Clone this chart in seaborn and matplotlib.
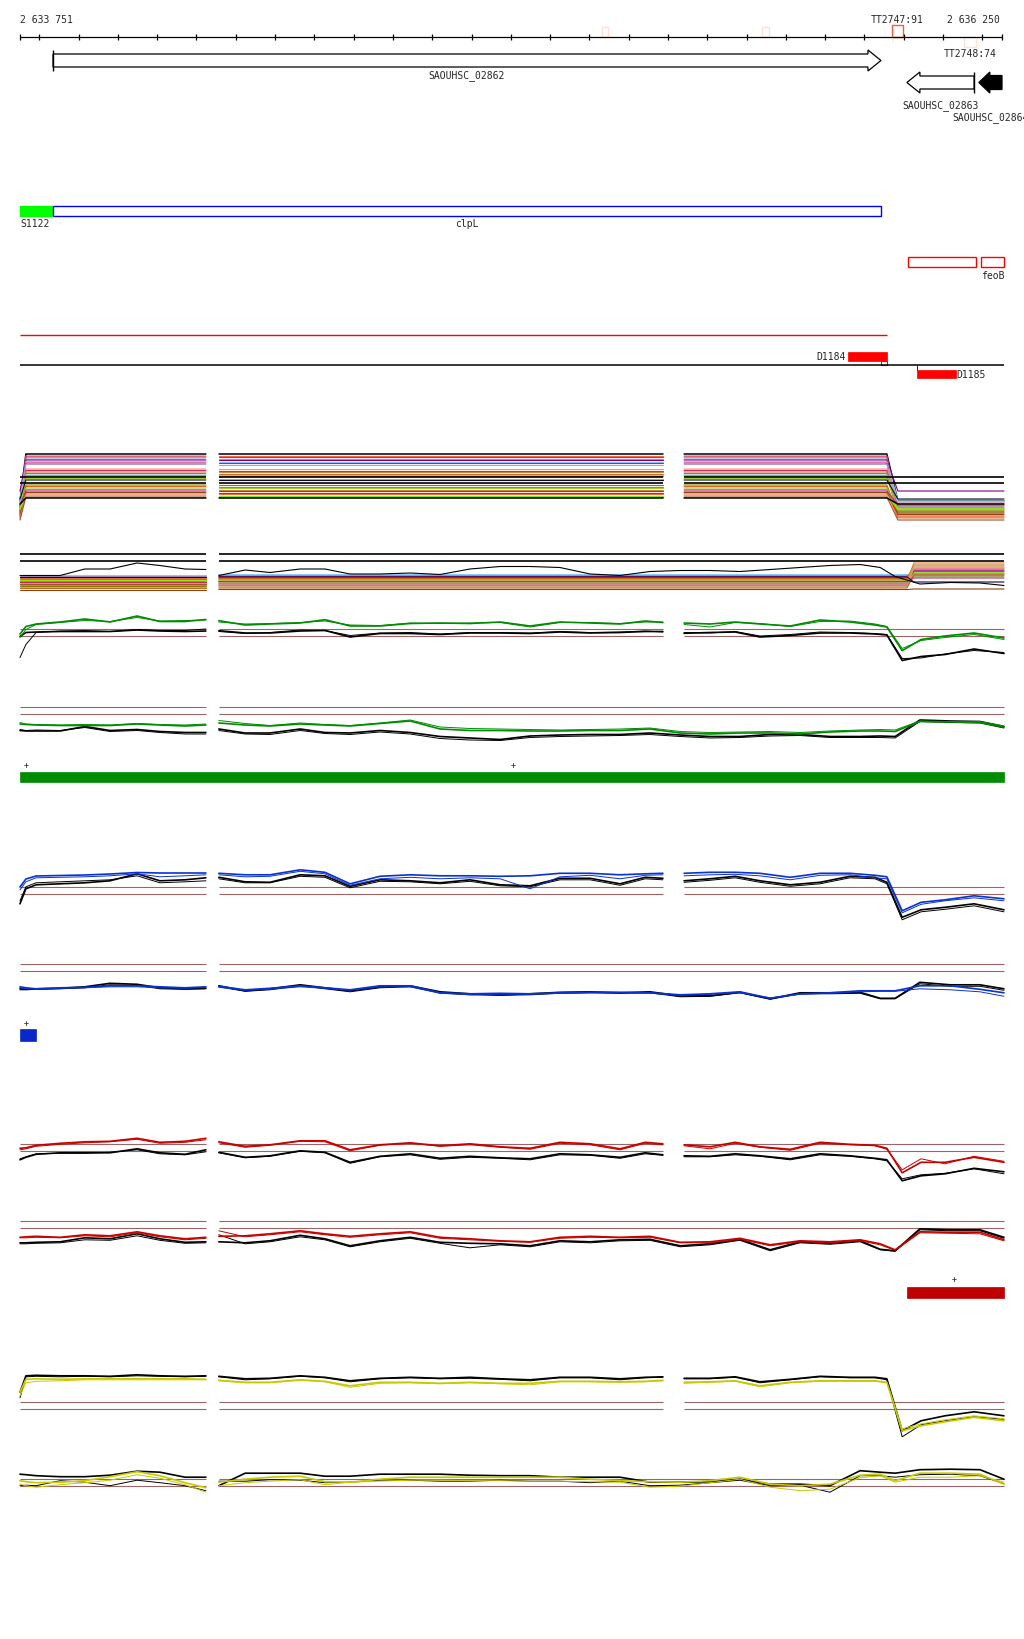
"""
plot.py

Genome-browser style view of the clpL / feoB region (2 633 751 - 2 636 250):
gene track, annotation tracks and per-condition expression traces.
"""

import matplotlib
matplotlib.use("Agg")

import matplotlib.pyplot as plt
import numpy as np
import pandas as pd
import seaborn as sns
from matplotlib.patches import Polygon, Rectangle

# ---------------------------------------------------------------- window
START, END = 2633751, 2636250
TICKS = list(range(2633800, 2636250, 100))

# ---------------------------------------------------------------- genes
gene_names = ["SAOUHSC_02862", "SAOUHSC_02863", "SAOUHSC_02864"]
gene_starts = [2633835, 2636008, 2636191]
gene_ends = [2635942, 2636179, 2636250]
gene_strands = ["+", "-", "-"]
gene_filled = [False, False, True]

# terminators drawn on the ruler
term_names = ["", "", "TT2747:91", "TT2748:74"]
term_starts = [2635231, 2635638, 2635969, 2636153]
term_ends = [2635247, 2635656, 2635998, 2636184]
term_strands = ["+", "+", "+", "-"]
term_colors = ["#FBE1D6", "#FBE1D6", "#F0603F", "#FBE1D6"]

# annotation tracks
anno_names = ["S1122", "clpL"]
anno_starts = [2633751, 2633835]
anno_ends = [2633835, 2635942]
feo_starts = [2636012, 2636197]
feo_ends = [2636184, 2636255]
red_line_end = 2635957
d_names = ["D1184", "D1185"]
d_starts = [2635858, 2636034]
d_ends = [2635957, 2636133]

# condition bars
bar_starts = [2633751, 2633751, 2636007]
bar_ends = [2636255, 2633792, 2636255]
bar_colors = ["#008C00", "#0A28C8", "#BE0000"]
plus_marks = [[2633766, 2635006], [2633766], [2636128]]

# ---------------------------------------------------------------- trace grids (bp)
pos_seg1 = [2633751, 2633766, 2633792, 2633853, 2633916, 2633980, 2634049,
            2634107, 2634171, 2634224]
pos3_seg2 = [2634257, 2634324, 2634387, 2634464, 2634527, 2634591, 2634667,
             2634744, 2634820, 2634896, 2634973, 2635049, 2635125, 2635202,
             2635278, 2635342, 2635387]
pos3_seg3 = [2635441, 2635507, 2635571, 2635634, 2635711, 2635787, 2635863,
             2635927, 2635957, 2635996, 2636044, 2636105, 2636179, 2636255]
pos2_seg2 = [2634257, 2634324, 2634387, 2634464, 2634527, 2634591, 2634667,
             2634744, 2634820, 2634896, 2634973, 2635049, 2635125, 2635202,
             2635278, 2635354, 2635431, 2635507, 2635583, 2635660, 2635736,
             2635812, 2635889, 2635940, 2635978, 2636041, 2636118, 2636194,
             2636255]

THRESH = 0.35

# ---------------------------------------------------------------- multi-sample rows
rowA_level = [4.4, 4.2, 4.1, 3.9, 3.8, 3.65, 3.5, 3.35, 2.9, 2.75, 2.6, 2.45,
              2.3, 2.2, 1.95, 1.8, 1.3, 1.15, 1.0, 0.85, 0.7, 0.55, 0.4,
              0.25, 0.1, 0.0]
rowA_after = [-0.3, -1.0, -0.9, -0.8, 0.7, -0.2, -1.2, -0.5, -0.4, -1.4,
              -1.1, -1.6, -0.35, -1.3, -1.0, -0.1, -1.5, -1.8, -1.2, -2.0,
              -0.7, -1.65, -1.9, -1.1, -2.2, -0.6]
rowA_colors = ["#000000", "#FF6347", "#C0306A", "#9999CC", "#800080",
               "#87CEFA", "#C71585", "#B0A0D0", "#E9967A", "#C8285A",
               "#CD853F", "#D2691E", "#87CEFA", "#808000", "#9ACD32",
               "#0A0A28", "#808000", "#D2691E", "#9ACD32", "#CD853F",
               "#C71585", "#8B4513", "#FF6347", "#7CFC00", "#A0522D",
               "#000000"]
rowA_thresholds = [2.07, 1.47]

rowB_level = [1.45, 1.35, 1.25, 1.15, 1.05, 0.95, 0.9, 0.8, 0.7, 0.6, 0.5,
              0.4, 0.3, 0.2, 0.1, -0.05, 0.75, 1.2]
rowB_after = [1.2, 1.5, 1.9, 2.1, 2.4, 1.7, 1.6, 2.6, 1.8, 2.3, 1.4, 2.0,
              1.3, 2.2, 1.5, 0.0, 1.1, 0.7]
rowB_colors = ["#87CEFA", "#9999CC", "#C71585", "#FF6347", "#D2691E",
               "#808000", "#7CFC00", "#CD853F", "#8B008B", "#9ACD32",
               "#A0522D", "#DB7093", "#808000", "#E9967A", "#D2691E",
               "#8B4513", "#C8285A", "#0A0A3C"]
rowB_thresholds = [3.5, 2.8]
rowB_black = [1.35, 1.35, 1.35, 1.35, 2.0, 2.0, 2.6, 2.35, 2.0, 1.95,
              1.35, 1.9, 1.65, 2.0, 2.0, 1.5, 1.5, 1.6, 1.45, 2.0, 2.25, 2.25,
              2.15, 1.5, 1.35, 1.75, 1.85, 1.85, 1.75, 1.95, 2.15, 2.35, 2.45,
              2.15, 1.25, 0.5, 0.65, 0.6, 0.35]

# ---------------------------------------------------------------- green condition
rowC_green = [-0.15, 0.6, 0.85, 1.05, 1.35, 1.05, 1.65, 1.1, 1.1, 1.3,
              1.18, 0.75, 0.85, 0.95, 1.28, 0.65, 0.65, 0.9, 0.95, 0.9, 1.05,
              0.65, 1.05, 0.95, 0.85, 1.15, 1.0,
              0.95, 0.85, 1.05, 0.85, 0.65, 1.25, 1.05, 0.75, 0.55, -1.82,
              -0.7, -0.35, -0.05, -0.55]
rowC_green2 = [-0.5, 0.3, 0.8, 1.0, 1.2, 1.1, 1.5, 1.15, 1.2, 1.25,
               1.05, 0.85, 0.9, 1.0, 1.15, 0.75, 0.7, 0.95, 0.9, 0.95, 1.0,
               0.55, 1.0, 1.0, 0.9, 1.05, 1.05,
               0.8, 0.55, 1.0, 0.9, 0.6, 1.1, 1.15, 0.85, 0.6, -1.6, -0.8,
               -0.5, -0.2, -0.7]
rowC_black = [-0.4, 0.0, 0.05, 0.1, 0.1, 0.1, 0.25, 0.15, 0.1, 0.15,
              0.18, -0.05, -0.05, 0.15, 0.2, -0.45, -0.1, -0.1, -0.2, -0.05,
              -0.05, -0.1, 0.05, -0.05, 0.0, 0.1, 0.1,
              -0.08, 0.0, 0.05, -0.45, -0.3, -0.05, -0.05, -0.15, -0.25, -2.8,
              -2.4, -2.2, -1.65, -2.1]
rowC_black2 = [-2.5, -1.2, 0.0, 0.15, 0.2, 0.1, 0.3, 0.2, 0.2, 0.35,
               0.1, -0.1, 0.0, 0.25, 0.2, -0.3, -0.05, 0.0, -0.15, 0.0, 0.0,
               -0.05, 0.1, 0.0, 0.05, 0.15, 0.05,
               0.0, -0.05, 0.1, -0.35, -0.2, 0.05, 0.0, -0.1, -0.2, -2.6,
               -2.55, -2.15, -1.8, -2.0]
rowD_green = [-1.35, -1.4, -1.45, -1.5, -1.5, -1.5, -1.35, -1.45, -1.55, -1.45,
              -1.25, -1.45, -1.55, -1.35, -1.45, -1.55, -1.3, -1.05, -1.85,
              -2.0, -2.0, -2.05, -2.05, -2.0, -2.0, -1.85, -2.25, -2.35, -2.25,
              -2.25, -2.35, -2.15, -2.05, -2.05, -2.1, -1.1, -1.15, -1.2, -1.65]
rowD_green2 = [-1.2, -1.35, -1.4, -1.45, -1.4, -1.45, -1.3, -1.4, -1.45, -1.35,
               -1.0, -1.3, -1.5, -1.25, -1.4, -1.5, -1.25, -0.95, -1.65, -1.8,
               -1.85, -1.9, -1.95, -1.9, -1.85, -1.75, -2.1, -2.2, -2.15, -2.1,
               -2.2, -2.05, -1.95, -1.9, -1.95, -1.05, -1.1, -1.1, -1.55]
rowD_black = [-2.0, -2.05, -2.05, -2.05, -1.6, -2.0, -1.9, -2.1, -2.2, -2.2,
              -1.85, -2.25, -2.25, -1.85, -2.2, -2.25, -2.0, -2.2, -2.6, -2.75,
              -2.9, -2.55, -2.45, -2.4, -2.4, -2.25, -2.45, -2.6, -2.6, -2.4,
              -2.4, -2.6, -2.6, -2.55, -2.6, -0.95, -1.05, -1.1, -1.6]
rowD_black2 = [-1.9, -2.0, -1.95, -2.0, -1.7, -2.1, -2.0, -2.2, -2.35, -2.35,
               -2.0, -2.35, -2.4, -2.0, -2.3, -2.4, -2.15, -2.35, -2.8, -2.95,
               -3.0, -2.7, -2.6, -2.55, -2.5, -2.4, -2.6, -2.75, -2.7, -2.55,
               -2.5, -2.7, -2.7, -2.7, -2.75, -1.1, -1.2, -1.25, -1.75]

# ---------------------------------------------------------------- blue condition
rowE_blue = [0.38, 1.18, 1.48, 1.53, 1.58, 1.68, 1.83, 1.78, 1.78, 1.78,
             1.75, 1.6, 1.6, 2.1, 1.85, 0.7, 1.45, 1.6, 1.5, 1.5, 1.45, 1.5,
             1.75, 1.75, 1.6, 1.7, 1.75,
             1.75, 1.85, 1.85, 1.75, 1.35, 1.75, 1.75, 1.55, 1.4, -2.0, -1.15,
             -0.9, -0.5, -0.8]
rowE_blue2 = [0.1, 0.9, 1.3, 1.35, 1.4, 1.5, 1.7, 1.4, 1.5, 1.6,
              1.6, 1.4, 1.45, 1.95, 1.7, 0.55, 1.2, 1.35, 1.2, 1.3, 1.2, 0.2,
              1.4, 1.55, 1.2, 1.55, 1.6,
              1.5, 1.6, 1.65, 1.5, 1.1, 1.55, 1.6, 1.3, 1.2, -2.2, -1.35, -1.0,
              -0.7, -1.0]
rowE_black = [-1.3, 0.2, 0.6, 0.7, 0.8, 1.0, 1.7, 1.0, 1.1, 1.3,
              1.35, 0.9, 0.85, 1.6, 1.5, 0.45, 1.1, 1.0, 0.8, 1.1, 0.6, 0.5,
              1.25, 1.25, 0.7, 1.35, 1.25,
              1.0, 1.2, 1.45, 1.0, 0.6, 0.85, 1.45, 1.35, 0.85, -2.65, -1.9,
              -1.65, -1.3, -1.9]
rowE_black2 = [-1.0, 0.4, 0.8, 0.9, 1.0, 1.1, 1.5, 0.8, 0.9, 1.0,
               1.2, 0.8, 0.8, 1.45, 1.35, 0.3, 0.95, 0.9, 0.7, 0.95, 0.5, 0.4,
               1.1, 1.1, 0.55, 1.2, 1.1,
               0.85, 1.05, 1.3, 0.85, 0.45, 0.7, 1.3, 1.2, 0.7, -2.9, -2.1,
               -1.85, -1.5, -2.1]
rowF_blue = [-1.9, -2.0, -2.1, -2.0, -1.95, -1.8, -1.8, -1.9, -2.0, -1.9,
             -1.85, -2.2, -2.05, -1.8, -2.0, -2.2, -1.8, -1.8, -2.5, -2.6,
             -2.55, -2.6, -2.5, -2.45, -2.45, -2.5, -2.7, -2.6, -2.4, -3.05,
             -2.6, -2.5, -2.3, -2.3, -2.3, -1.8, -1.8, -2.15, -2.5]
rowF_blue2 = [-2.0, -2.1, -2.15, -2.05, -2.0, -1.9, -1.9, -2.0, -2.05, -1.95,
              -1.95, -2.25, -2.15, -1.9, -2.05, -2.25, -1.9, -1.9, -2.55, -2.7,
              -2.65, -2.65, -2.55, -2.5, -2.5, -2.55, -2.75, -2.65, -2.5, -3.0,
              -2.65, -2.55, -2.4, -2.35, -2.35, -2.1, -2.2, -2.4, -2.85]
rowF_black = [-2.1, -2.15, -2.1, -2.05, -1.9, -1.55, -1.65, -2.0, -2.1, -2.05,
              -1.8, -2.3, -2.1, -1.7, -2.0, -2.3, -1.9, -1.8, -2.4, -2.6,
              -2.7, -2.6, -2.45, -2.4, -2.5, -2.4, -2.8, -2.8, -2.45, -3.1,
              -2.5, -2.5, -2.45, -3.05, -3.05, -1.45, -1.7, -1.7, -2.1]
rowF_black2 = [-2.2, -2.2, -2.15, -2.1, -2.0, -1.7, -1.75, -2.1, -2.15, -2.1,
               -1.9, -2.35, -2.2, -1.8, -2.1, -2.4, -2.0, -1.9, -2.5, -2.7,
               -2.75, -2.7, -2.55, -2.5, -2.55, -2.5, -2.9, -2.85, -2.5, -3.15,
               -2.6, -2.6, -2.55, -3.1, -3.1, -1.6, -1.85, -1.85, -2.25]

# ---------------------------------------------------------------- red condition
rowG_red = [-0.05, 0.0, 0.25, 0.45, 0.6, 0.65, 0.95, 0.55, 0.65, 0.95,
            0.6, 0.15, 0.3, 0.7, 0.7, -0.2, 0.3, 0.5, 0.2, 0.4, 0.1, -0.05,
            0.55, 0.4, -0.1, 0.55, 0.4,
            0.3, 0.1, 0.55, 0.1, -0.15, 0.55, 0.35, 0.25, -0.05, -2.5, -1.45,
            -1.45, -0.95, -1.45]
rowG_red2 = [-0.2, -0.1, 0.15, 0.35, 0.5, 0.6, 0.85, 0.45, 0.55, 0.8,
             0.5, 0.05, 0.25, 0.65, 0.6, -0.3, 0.25, 0.45, 0.15, 0.3, 0.05,
             -0.15, 0.45, 0.3, -0.2, 0.45, 0.3,
             0.2, -0.1, 0.45, 0.05, -0.25, 0.45, 0.3, 0.2, -0.15, -2.2, -1.1,
             -1.6, -0.85, -1.35]
rowG_black = [-1.2, -0.95, -0.65, -0.5, -0.5, -0.5, -0.1, -0.5, -0.65, -0.2,
              -0.45, -0.95, -0.8, -0.3, -0.45, -1.45, -0.85, -0.6, -1.05,
              -0.85, -1.0, -1.1, -0.6, -0.7, -0.95, -0.5, -0.7,
              -0.8, -0.85, -0.6, -0.8, -1.1, -0.6, -0.8, -1.05, -1.2, -3.3,
              -2.8, -2.6, -2.05, -2.4]
rowG_black2 = [-1.1, -0.9, -0.6, -0.55, -0.55, -0.45, -0.2, -0.6, -0.7, -0.4,
               -0.5, -1.0, -0.85, -0.35, -0.5, -1.55, -0.9, -0.7, -1.15,
               -0.95, -1.05, -1.2, -0.7, -0.75, -1.05, -0.6, -0.75,
               -0.9, -0.9, -0.7, -0.85, -1.2, -0.7, -0.85, -1.1, -1.3, -3.1,
               -2.7, -2.55, -2.1, -2.6]
rowH_red = [-1.25, -1.2, -1.15, -1.25, -1.0, -1.1, -0.7, -1.1, -1.4, -1.25,
            -1.15, -1.1, -0.9, -0.6, -0.9, -1.15, -0.9, -0.7, -1.25, -1.4,
            -1.6, -1.7, -1.25, -1.15, -1.25, -1.15, -1.75, -1.7, -1.35, -2.0,
            -1.6, -1.7, -1.5, -1.9, -2.5, -0.7, -0.75, -0.75, -1.5]
rowH_red2 = [-1.3, -1.3, -1.25, -1.3, -1.1, -1.2, -0.8, -1.2, -1.5, -1.35,
             -0.6, -1.2, -1.0, -0.7, -1.0, -1.25, -1.0, -0.8, -1.35, -1.5,
             -1.65, -1.75, -1.35, -1.25, -1.3, -1.25, -1.8, -1.8, -1.45, -2.1,
             -1.7, -1.8, -1.6, -2.0, -2.55, -0.8, -0.85, -0.9, -1.6]
rowH_black = [-1.8, -1.8, -1.75, -1.7, -1.3, -1.4, -0.9, -1.4, -1.75, -1.7,
              -1.7, -1.8, -1.6, -1.05, -1.4, -2.1, -1.6, -1.25, -1.75, -1.85,
              -1.9, -2.1, -1.6, -1.7, -1.5, -1.45, -2.1, -1.9, -1.45, -2.5,
              -1.7, -1.85, -1.6, -2.45, -2.6, -0.4, -0.5, -0.5, -1.25]
rowH_black2 = [-1.9, -1.9, -1.85, -1.8, -1.5, -1.55, -1.1, -1.55, -1.85, -1.8,
               -1.0, -1.9, -1.7, -1.2, -1.5, -2.2, -1.7, -1.35, -1.85, -2.3,
               -2.0, -2.2, -1.7, -1.8, -1.6, -1.55, -2.2, -2.0, -1.55, -2.6,
               -1.8, -1.95, -1.7, -2.5, -2.65, -0.5, -0.6, -0.6, -1.35]

# ---------------------------------------------------------------- yellow condition
rowI_black = [1.35, 3.0, 3.05, 3.0, 3.0, 2.95, 3.1, 3.0, 2.95, 3.0,
              2.95, 2.7, 2.75, 3.0, 2.85, 2.5, 2.75, 2.85, 2.75, 2.85, 2.7,
              2.6, 2.85, 2.85, 2.7, 2.85, 2.9,
              2.75, 2.75, 2.9, 2.4, 2.65, 2.95, 2.85, 2.85, 2.7, -2.5, -1.5,
              -1.0, -0.6, -1.0]
rowI_black2 = [0.8, 2.9, 2.95, 2.9, 2.95, 2.9, 3.0, 2.95, 2.9, 2.95,
               2.9, 2.6, 2.7, 2.95, 2.8, 2.4, 2.7, 2.8, 2.7, 2.75, 2.65, 2.5,
               2.8, 2.8, 2.6, 2.8, 2.85,
               2.7, 2.7, 2.85, 2.3, 2.6, 2.9, 2.8, 2.8, 2.6, -3.1, -1.9, -1.5,
               -1.1, -1.35]
rowI_yellow = [1.35, 2.65, 2.7, 2.65, 2.7, 2.7, 2.7, 2.7, 2.7, 2.65,
               2.55, 2.35, 2.35, 2.6, 2.45, 2.0, 2.35, 2.35, 2.25, 2.35, 2.25,
               2.25, 2.45, 2.45, 2.4, 2.45, 2.55,
               2.35, 2.4, 2.5, 2.0, 2.35, 2.5, 2.5, 2.5, 2.35, -2.5, -2.0,
               -1.6, -1.15, -1.5]
rowI_yellow2 = [1.0, 2.3, 2.45, 2.5, 2.6, 2.6, 2.6, 2.6, 2.6, 2.6,
                2.5, 2.3, 2.3, 2.55, 2.4, 1.85, 2.25, 2.3, 2.2, 2.3, 2.2, 2.1,
                2.4, 2.4, 2.35, 2.4, 2.5,
                2.25, 2.35, 2.45, 1.9, 2.3, 2.45, 2.45, 2.45, 2.3, -2.3, -1.8,
                -1.4, -1.0, -1.3]
rowJ_black = [0.85, 0.8, 0.7, 0.6, 0.6, 0.75, 1.15, 1.05, 0.55, 0.55,
              -0.3, 0.95, 0.95, 0.95, 0.65, 0.65, 0.85, 0.85, 0.85, 0.75, 0.7,
              0.7, 0.55, 0.55, 0.55, 0.05, 0.05, 0.1, 0.35, -0.15, -0.15,
              -0.3, 1.2, 1.05, 0.95, 1.3, 1.35, 1.3, 0.35]
rowJ_black2 = [-0.3, -0.25, -0.3, 0.2, 0.05, -0.3, 0.25, 0.0, -0.3, -0.8,
               0.15, 0.15, 0.3, 0.25, 0.0, 0.05, 0.25, 0.25, 0.15, 0.15, 0.25,
               0.15, 0.15, 0.0, 0.15, -0.3, -0.25, 0.0, 0.25, -0.3, -0.25,
               -0.95, 0.7, 0.7, 0.55, 0.8, 0.85, 0.7, -0.1]
rowJ_yellow = [0.2, 0.1, 0.0, 0.05, 0.2, 0.6, 1.1, 0.7, 0.0, -0.5,
               0.05, 0.35, 0.55, 0.65, 0.1, 0.05, 0.35, 0.55, 0.55, 0.55, 0.55,
               0.55, 0.55, 0.35, 0.2, 0.1, 0.05, 0.2, 0.55, -0.15, -0.3, -0.15,
               0.75, 0.85, 0.2, 0.95, 0.95, 0.85, -0.15]
rowJ_yellow2 = [-0.15, -0.3, -0.45, -0.2, 0.0, 0.25, 0.8, 0.45, -0.2, -0.95,
                -0.3, 0.0, 0.15, 0.3, -0.2, 0.05, 0.15, 0.25, 0.25, 0.2, 0.2,
                0.15, 0.15, 0.1, 0.05, -0.45, -0.35, 0.0, 0.35, -0.45, -0.8,
                -0.65, 0.5, 0.7, 0.05, 0.55, 0.55, 0.7, 0.05]

# ---------------------------------------------------------------- layout
W, H = 1024, 1640
PX_LEFT, PX_RIGHT = 20, 1002                      # ruler ends in pixels
BP_PER_PX = (END - START) / (PX_RIGHT - PX_LEFT)
GAIN = 10                                         # pixels per signal unit
BROWN = "#9C6464"
FONT = dict(family="DejaVu Sans Mono", fontsize=7)

SEG3 = [pos_seg1, pos3_seg2, pos3_seg3]
SEG2 = [pos_seg1, pos2_seg2]


def px(n):
    """Horizontal pixel length -> bp."""
    return n * BP_PER_PX


def trace(ax, segments, values, base, color, lw):
    frames, i = [], 0
    for k, seg in enumerate(segments):
        n = len(seg)
        vals = np.asarray(values[i:i + n], dtype=float)
        frames.append(pd.DataFrame({"pos": seg, "y": base - GAIN * vals, "seg": k}))
        i += n
    df = pd.concat(frames, ignore_index=True)
    sns.lineplot(data=df, x="pos", y="y", units="seg", estimator=None,
                 sort=False, color=color, lw=lw, ax=ax, legend=False)


def thresholds(ax, segments, levels, base, color, lw=0.8):
    for seg in segments:
        for lv in levels:
            ax.hlines(base - GAIN * lv, seg[0], seg[-1], color=color, lw=lw)


def arrow(ax, start, end, strand, yc, filled, shaft=6.5, head=10.5, hlen=13):
    hl = px(hlen)
    if strand == "+":
        tip, back, neck = end, start, end - hl
    else:
        tip, back, neck = start, end, start + hl
    verts = [(back, yc - shaft), (neck, yc - shaft), (neck, yc - head),
             (tip, yc), (neck, yc + head), (neck, yc + shaft), (back, yc + shaft)]
    ax.add_patch(Polygon(verts, closed=True, fc="black" if filled else "white",
                         ec="black", lw=0.9))
    if not filled:
        ax.vlines(back, yc - head, yc + head, color="black", lw=1.0)


def main():
    sns.set_theme(style="white")
    plt.rcParams["font.family"] = ["DejaVu Sans Mono", "DejaVu Sans"]

    fig = plt.figure(figsize=(W / 100, H / 100), dpi=100)
    ax = fig.add_axes([0, 0, 1, 1])

    # ruler
    ax.hlines(38, START, END, color="black", lw=0.9)
    ax.vlines(TICKS + [START, END], 35, 41, color="black", lw=0.9)
    ax.text(START, 20, "2 633 751", ha="left", va="center", **FONT)
    ax.text(END - px(2), 20, "2 636 250", ha="right", va="center", **FONT)
    for name, s, e, st, c in zip(term_names, term_starts, term_ends,
                                 term_strands, term_colors):
        h = 12 if name and st == "+" else 10
        y0 = 38 - h if st == "+" else 38
        ax.add_patch(Rectangle((s, y0), e - s, h, fc="none", ec=c, lw=1.0))
        if name:
            ty = 20 if st == "+" else 54
            ax.text((s + e) / 2, ty, name, ha="center", va="center", **FONT)

    # genes
    gene_rows = [61.5, 83.5, 83.5]
    label_rows = [76, 106, 118]
    for name, s, e, st, f, yc, ly in zip(gene_names, gene_starts, gene_ends,
                                         gene_strands, gene_filled, gene_rows,
                                         label_rows):
        if f:
            arrow(ax, s, e, st, yc, True, shaft=7, head=10.5, hlen=11)
        else:
            arrow(ax, s, e, st, yc, False)
        ax.text((s + e) / 2, ly, name, ha="center", va="center", **FONT)

    # annotation tracks
    ax.add_patch(Rectangle((anno_starts[0], 207), anno_ends[0] - anno_starts[0], 10,
                           fc="#00FF00", ec="#00FF00", lw=1.0))
    ax.add_patch(Rectangle((anno_starts[1], 207), anno_ends[1] - anno_starts[1], 10,
                           fc="white", ec="#0000FF", lw=1.0))
    ax.text(anno_starts[0], 224, anno_names[0], ha="left", va="center", **FONT)
    ax.text((anno_starts[1] + anno_ends[1]) / 2, 224, anno_names[1],
            ha="center", va="center", **FONT)
    for s, e in zip(feo_starts, feo_ends):
        ax.add_patch(Rectangle((s, 258), e - s, 10, fc="white", ec="#FF0000", lw=1.0))
    ax.text((feo_starts[1] + feo_ends[1]) / 2, 276, "feoB", ha="center",
            va="center", **FONT)

    ax.hlines(336, START, red_line_end, color="#FF0000", lw=1.0)
    ax.hlines(366, START, feo_ends[1], color="black", lw=1.1)
    ax.add_patch(Rectangle((d_starts[0], 353), d_ends[0] - d_starts[0], 9,
                           fc="#FF0000", ec="#FF0000", lw=0.5))
    ax.add_patch(Rectangle((d_ends[0] - px(6), 362), px(6), 4,
                           fc="white", ec="#FF0000", lw=0.8))
    ax.text(d_starts[0] - px(2), 357.5, d_names[0], ha="right", va="center", **FONT)
    ax.vlines(d_starts[1], 366, 371, color="black", lw=0.6)
    ax.add_patch(Rectangle((d_starts[1], 371), d_ends[1] - d_starts[1], 8,
                           fc="#FF0000", ec="#FF0000", lw=0.5))
    ax.text(d_ends[1], 375.5, d_names[1], ha="left", va="center", **FONT)

    # multi-sample row A
    base_a = 499
    a_segments = [[START, pos_seg1[1], pos_seg1[-1]],
                  [pos3_seg2[0], pos3_seg2[-1]],
                  [pos3_seg3[0], pos3_seg3[8], pos3_seg3[8] + px(11), pos3_seg3[-1]]]
    for lv, af, c in zip(rowA_level, rowA_after, rowA_colors):
        vals = [af, lv, lv, lv, lv, lv, lv, af, af]
        trace(ax, a_segments, vals, base_a, c, 0.8 if c != "#000000" else 1.1)
    thresholds(ax, SEG3, rowA_thresholds, base_a, "black", lw=1.2)

    # multi-sample row B
    base_b = 590
    b_segments = [[START, pos_seg1[-1]],
                  [pos2_seg2[0], pos2_seg2[24] + px(12), pos2_seg2[25] - px(6),
                   pos2_seg2[-1]]]
    for lv, af, c in zip(rowB_level, rowB_after, rowB_colors):
        trace(ax, b_segments, [lv, lv, lv, lv, af, af], base_b, c, 0.8)
    trace(ax, SEG2, rowB_black, base_b, "black", 0.8)
    thresholds(ax, SEG2, rowB_thresholds, base_b, "black", lw=1.2)

    # condition rows: (segments, base, colour, thick, thin, black, black thin)
    GREEN, BLUE, RED, YEL = "#008C00", "#0A32D2", "#C80000", "#C8C800"
    rows = [
        (SEG3, 633.5, GREEN, rowC_green, rowC_green2, rowC_black, rowC_black2),
        (SEG2, 711.5, GREEN, rowD_green, rowD_green2, rowD_black, rowD_black2),
        (SEG3, 891.8, BLUE, rowE_blue, rowE_blue2, rowE_black, rowE_black2),
        (SEG2, 968.8, BLUE, rowF_blue, rowF_blue2, rowF_black, rowF_black2),
        (SEG3, 1148.8, RED, rowG_red, rowG_red2, rowG_black, rowG_black2),
        (SEG2, 1225.8, RED, rowH_red, rowH_red2, rowH_black, rowH_black2),
        (SEG3, 1406.8, YEL, rowI_yellow, rowI_yellow2, rowI_black, rowI_black2),
        (SEG2, 1483.7, YEL, rowJ_yellow, rowJ_yellow2, rowJ_black, rowJ_black2),
    ]
    for segs, base, col, c1, c2, k1, k2 in rows:
        thresholds(ax, segs, [THRESH, -THRESH], base, BROWN)
        trace(ax, segs, k2, base, "black", 0.7)
        trace(ax, segs, k1, base, "black", 1.2)
        trace(ax, segs, c2, base, col, 0.7)
        trace(ax, segs, c1, base, col, 1.2)

    # condition bars with strand marks
    bar_rows = [(773, 10, 766), (1030, 12, 1023), (1288, 11, 1280)]
    for s, e, c, marks, (y0, h, my) in zip(bar_starts, bar_ends, bar_colors,
                                           plus_marks, bar_rows):
        ax.add_patch(Rectangle((s, y0), e - s, h, fc=c, ec=c, lw=0.5))
        for m in marks:
            ax.text(m, my, "+", ha="center", va="center",
                    family="DejaVu Sans Mono", fontsize=6)

    ax.set_xlim(START - px(PX_LEFT), START + px(W - PX_LEFT))
    ax.set_ylim(H, 0)
    ax.axis("off")
    fig.savefig("out.png", dpi=100, facecolor="white")
    plt.close(fig)


if __name__ == "__main__":
    main()
